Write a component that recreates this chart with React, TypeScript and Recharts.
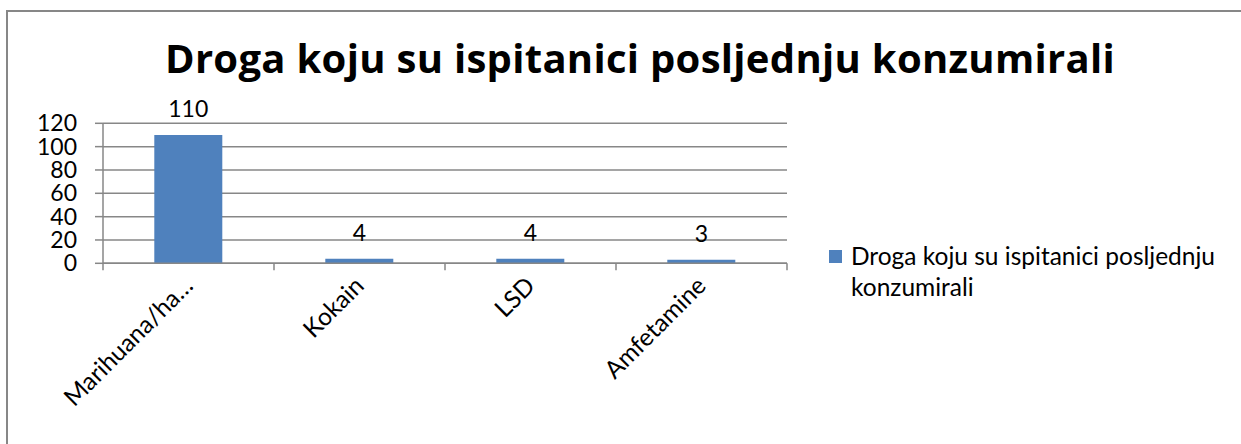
import { BarChart, Bar, XAxis, YAxis, CartesianGrid, LabelList, Legend } from "recharts";

const CATEGORIES = ["Marihuana/ha…", "Kokain", "LSD", "Amfetamine"];
const VALUES = [110, 4, 4, 3];
const Y_TICKS = [0, 20, 40, 60, 80, 100, 120];
const SERIES_NAME = "Droga koju su ispitanici posljednju konzumirali";
const TITLE = "Droga koju su ispitanici posljednju konzumirali";

const FONT = "Lato, 'Open Sans', sans-serif";
const TITLE_FONT = "'Open Sans', 'Noto Sans', sans-serif";
const TEXT_SIZE = 24.5;
const NUM_SIZE = 23;
const BAR_COLOR = "#4F81BD";
const LINE_COLOR = "#878787";

const data = CATEGORIES.map((name, i) => ({ name, value: VALUES[i] }));

function CategoryTick(props: any) {
  const { x, y, payload, index } = props;
  const half = payload?.offset ?? 85.5;
  const tx = x + 6;
  const ty = y + 24;
  return (
    <g>
      <line x1={x - half} x2={x - half} y1={y} y2={y + 7} stroke={LINE_COLOR} strokeWidth={1.5} />
      {index === CATEGORIES.length - 1 && (
        <line x1={x + half} x2={x + half} y1={y} y2={y + 7} stroke={LINE_COLOR} strokeWidth={1.5} />
      )}
      <text
        x={tx}
        y={ty}
        textAnchor="end"
        transform={`rotate(-45, ${tx}, ${ty})`}
        fontSize={TEXT_SIZE}
        fontFamily={FONT}
        fill="#000"
      >
        {payload.value}
      </text>
    </g>
  );
}

function ChartLegend() {
  return (
    <div style={{ display: "flex", alignItems: "flex-start", fontFamily: FONT, fontSize: TEXT_SIZE, lineHeight: "31px", color: "#000", width: 400 }}>
      <span style={{ width: 13, height: 13, background: BAR_COLOR, marginTop: 10, marginRight: 9, flexShrink: 0 }} />
      <span>{SERIES_NAME}</span>
    </div>
  );
}

export default function App() {
  return (
    <div style={{ position: "fixed", left: 0, top: 0, width: 1241, height: 444, overflow: "hidden", background: "#fff" }}>
      <div
        style={{
          position: "absolute",
          left: 6,
          top: 10,
          width: 1300,
          height: 500,
          border: `2px solid ${LINE_COLOR}`,
        }}
      />
      <div
        style={{
          position: "absolute",
          left: 0,
          width: 1280,
          top: 34,
          textAlign: "center",
          fontFamily: TITLE_FONT,
          fontWeight: 700,
          fontSize: 40,
          letterSpacing: 0.3,
          lineHeight: "48px",
          color: "#000",
          whiteSpace: "nowrap",
        }}
      >
        {TITLE}
      </div>
      <div style={{ position: "absolute", left: 0, top: 0 }}>
        <BarChart
          width={1241}
          height={444}
          data={data}
          margin={{ top: 123.3, right: 454, bottom: 80.7, left: 43 }}
          barCategoryGap="30%"
        >
          <CartesianGrid vertical={false} stroke={LINE_COLOR} strokeWidth={1.5} />
          <XAxis
            dataKey="name"
            height={100}
            tickLine={false}
            tickSize={0}
            tickMargin={0}
            interval={0}
            axisLine={{ stroke: LINE_COLOR, strokeWidth: 1.5 }}
            tick={<CategoryTick />}
          />
          <YAxis
            width={60}
            domain={[0, 120]}
            ticks={Y_TICKS}
            interval={0}
            tickSize={8}
            tickMargin={18}
            axisLine={{ stroke: LINE_COLOR, strokeWidth: 1.5 }}
            tickLine={{ stroke: LINE_COLOR, strokeWidth: 1.5 }}
            tick={{ fontSize: NUM_SIZE, fontFamily: FONT, fill: "#000" }}
          />
          <Legend
            layout="horizontal"
            verticalAlign="middle"
            align="center"
            content={<ChartLegend />}
            wrapperStyle={{ position: "absolute", left: 829, top: 240, width: 400 }}
          />
          <Bar dataKey="value" name={SERIES_NAME} fill={BAR_COLOR} isAnimationActive={false}>
            <LabelList
              dataKey="value"
              position="top"
              offset={18}
              fontSize={NUM_SIZE}
              fontFamily={FONT}
              fill="#000"
            />
          </Bar>
        </BarChart>
      </div>
    </div>
  );
}
